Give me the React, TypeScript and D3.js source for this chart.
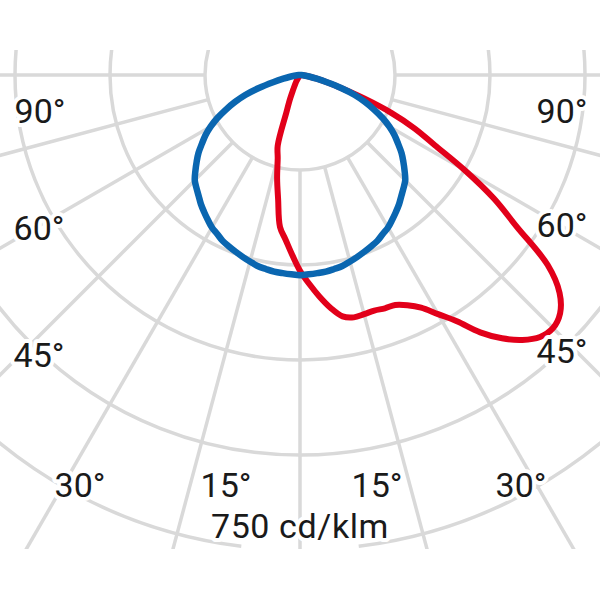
import React from 'react';
import * as d3 from 'd3';

// Polar angle (degrees from nadir, + to the right)
const ANGLES = [
  -90, -87.5, -85, -82.5, -80, -77.5, -75, -72.5, -70, -67.5, -65, -62.5, -60, -57.5, -55, -52.5,
  -50, -47.5, -45, -42.5, -40, -37.5, -35, -32.5, -30, -27.5, -25, -22.5, -20, -17.5, -15, -12.5,
  -10, -7.5, -5, -2.5, 0, 2.5, 5, 7.5, 10, 12.5, 15, 17.5, 20, 22.5, 25, 27.5, 30, 32.5, 35, 37.5,
  40, 42.5, 45, 47.5, 50, 52.5, 55, 57.5, 60, 62.5, 65, 67.5, 70, 72.5, 75, 77.5, 80, 82.5, 85, 87.5, 90,
];

// C0-C180 plane (blue), cd/klm
const BLUE_VALUES = [
  0, 2, 5, 9, 16, 27, 44, 68, 92, 111, 129, 147, 163, 177, 189, 202,
  213, 224, 235, 242, 249, 257, 264, 271, 278, 283, 289, 293, 297, 301, 305, 309,
  311, 313, 314, 315, 316, 315, 314, 313, 311, 309, 305, 301, 297, 293, 289, 283, 278, 271, 264, 257,
  249, 242, 235, 224, 213, 202, 189, 177, 163, 147, 129, 111, 92, 68, 44, 27, 16, 9, 5, 2, 0,
];

// C90-C270 plane (red), cd/klm
const RED_VALUES = [
  0, 0, 0, 0, 0, 0, 0, 0, 0, 0, 0, 0, 0, 0, 0, 0,
  0, 0, 0, 0, 0, 0, 3, 6, 11, 17, 25, 41, 63, 117, 136, 167,
  199, 242, 261, 284, 309, 330, 351, 371, 387, 392, 391, 390, 392, 393, 401, 414, 436, 461, 496, 524,
  546, 561, 565, 557, 535, 493, 418, 363, 300, 240, 200, 156, 107, 68, 44, 27, 16, 9, 5, 2, 0,
];

const RING_VALUES = [150, 300, 450, 600, 750];
const SPOKE_ANGLES = [-90, -75, -60, -45, -30, -15, 0, 15, 30, 45, 60, 75, 90];
const ANGLE_LABELS = ['90°', '60°', '45°', '30°', '15°', '15°', '30°', '45°', '60°', '90°'];
const UNIT_LABEL = '750 cd/klm';

// layout
const W = 600;
const H = 600;
const CX = 300;
const CY = 75;
const CLIP = { x: 0, y: 50, w: 600, h: 499 };
const LABEL_POS: [number, number][] = [
  [40, 123], [39, 240], [39, 367], [80, 497], [226, 497],
  [377, 497], [521, 497], [562, 363], [562, 237], [562, 123],
];
const UNIT_POS: [number, number] = [300, 538];
const GRID = '#d9d9d9';
const BLUE = '#0a66b0';
const RED = '#e2001a';
const FONT = 'Roboto, sans-serif';

const rScale = d3.scaleLinear().domain([0, 750]).range([0, 475]);
const rad = (deg: number) => (deg * Math.PI) / 180;

const curveGen = d3
  .lineRadial<number>()
  .angle((_, i) => Math.PI - rad(ANGLES[i]))
  .radius((d) => rScale(d))
  .curve(d3.curveCatmullRom.alpha(0.5));

function ringPath(value: number, gapDeg: number) {
  const p = d3.path();
  const r = rScale(value);
  const g = rad(gapDeg);
  const start = Math.PI / 2 + g;
  const end = Math.PI / 2 - g + 2 * Math.PI;
  p.moveTo(CX + r * Math.cos(start), CY + r * Math.sin(start));
  p.arc(CX, CY, r, start, end);
  return p.toString();
}

export default function App() {
  const textStyle: React.CSSProperties = {
    fontFamily: FONT,
    fontSize: 34,
    fill: '#1a1a1a',
    stroke: '#fff',
    strokeWidth: 8,
    strokeLinejoin: 'round',
    paintOrder: 'stroke',
  };
  return (
    <svg
      width={W}
      height={H}
      viewBox={`0 0 ${W} ${H}`}
      style={{ position: 'absolute', left: 0, top: 0, background: '#fff' }}
    >
      <defs>
        <clipPath id="plotClip">
          <rect x={CLIP.x} y={CLIP.y} width={CLIP.w} height={CLIP.h} />
        </clipPath>
      </defs>
      <rect x={0} y={0} width={W} height={H} fill="#fff" />
      <g clipPath="url(#plotClip)">
        <g fill="none" stroke={GRID} strokeWidth={3.5}>
          {RING_VALUES.map((v, i) =>
            i === RING_VALUES.length - 1 ? (
              <path key={v} d={ringPath(v, 7.1)} />
            ) : (
              <circle key={v} cx={CX} cy={CY} r={rScale(v)} />
            )
          )}
          {SPOKE_ANGLES.map((a) => {
            const r0 = rScale(RING_VALUES[0]);
            const r1 = 900;
            return (
              <line
                key={a}
                x1={CX + r0 * Math.sin(rad(a))}
                y1={CY + r0 * Math.cos(rad(a))}
                x2={CX + r1 * Math.sin(rad(a))}
                y2={CY + r1 * Math.cos(rad(a))}
              />
            );
          })}
        </g>
        <g transform={`translate(${CX},${CY})`} fill="none" strokeLinejoin="round" strokeLinecap="round">
          <path d={curveGen(RED_VALUES) || ''} stroke={RED} strokeWidth={6} />
          <path d={curveGen(BLUE_VALUES) || ''} stroke={BLUE} strokeWidth={6.5} />
        </g>
      </g>
      <g style={textStyle} textAnchor="middle">
        {ANGLE_LABELS.map((t, i) => (
          <text key={i} x={LABEL_POS[i][0]} y={LABEL_POS[i][1]}>
            {t}
          </text>
        ))}
        <text x={UNIT_POS[0]} y={UNIT_POS[1]} style={{ letterSpacing: 0.6 }}>
          {UNIT_LABEL}
        </text>
      </g>
    </svg>
  );
}
